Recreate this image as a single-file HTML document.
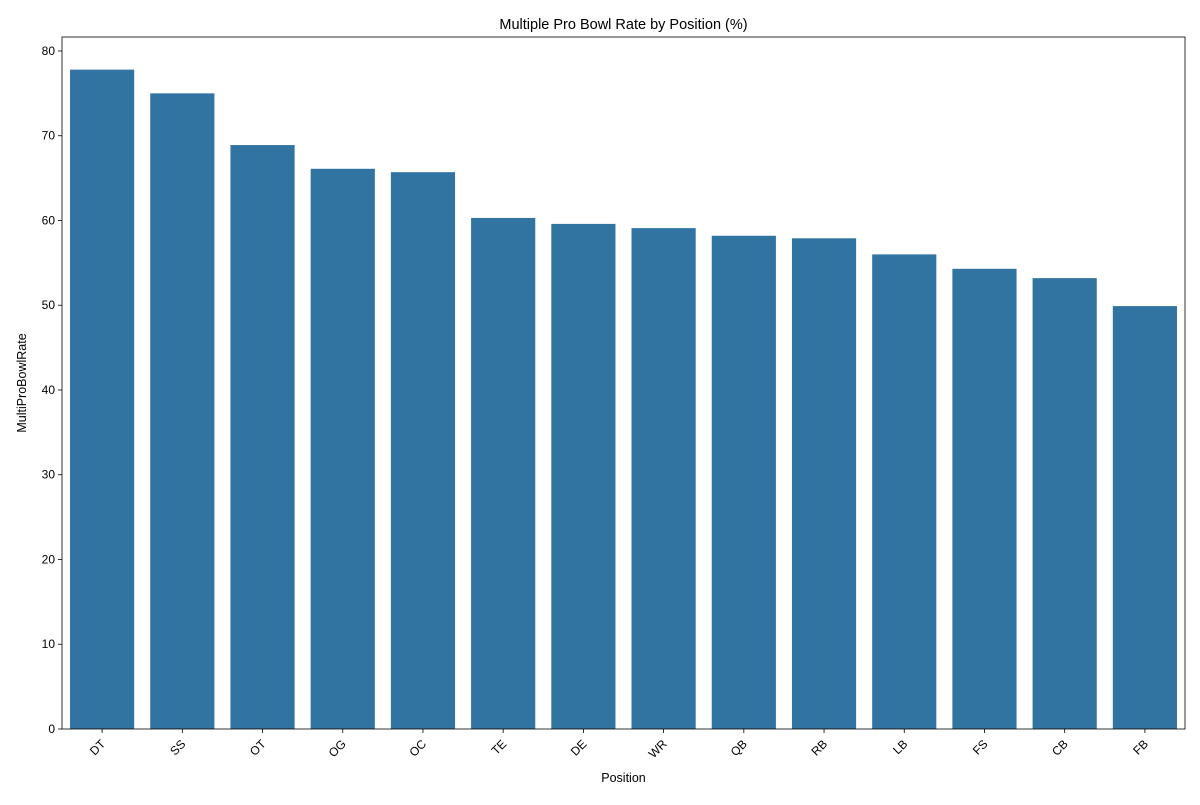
<!DOCTYPE html>
<html><head><meta charset="utf-8"><style>
body{margin:0;background:#fff;font-family:"Liberation Sans",sans-serif}
</style></head><body>
<svg id="chart" width="1200" height="800" xmlns="http://www.w3.org/2000/svg" font-family="Liberation Sans, sans-serif"></svg>
<script>
const categories=["DT","SS","OT","OG","OC","TE","DE","WR","QB","RB","LB","FS","CB","FB"];
const values=[77.8,75.0,68.9,66.1,65.7,60.3,59.6,59.1,58.2,57.9,56.0,54.3,53.2,49.9];
const yTicks=[0,10,20,30,40,50,60,70,80];
const NS="http://www.w3.org/2000/svg";
const svg=document.getElementById('chart');
const L=62,R=1185,T=37,B=729,yMax=81.65;
const y=v=>B-(v/yMax)*(B-T);
const band=(R-L)/categories.length;
const x=i=>L+band*i;
function mk(t,a,txt){const e=document.createElementNS(NS,t);for(const k in a)e.setAttribute(k,a[k]);if(txt!==undefined)e.textContent=txt;svg.appendChild(e);return e;}
categories.forEach((c,i)=>{
 const b=mk('rect',{x:x(i)+band*0.1,y:y(values[i]),width:band*0.8,height:B-y(values[i]),fill:'#3274a1'});
 
 
 const cx=x(i)+band/2;
 mk('line',{x1:cx,x2:cx,y1:B,y2:B+4,stroke:'#000','stroke-width':0.8});
 const t=mk('text',{x:cx,y:B+14,'font-size':12,'text-anchor':'end',transform:`rotate(-45 ${cx+4} ${B+10})`},c);
 
 
});
yTicks.forEach(v=>{
 const yy=y(v);
 mk('line',{x1:L-4,x2:L,y1:yy,y2:yy,stroke:'#000','stroke-width':0.8});
 const t=mk('text',{x:L-7,y:yy+4,'font-size':12,'text-anchor':'end'},v);
 
 
});
const f=mk('rect',{x:L,y:T,width:R-L,height:B-T,fill:'none',stroke:'#000','stroke-width':0.8});


const tt=mk('text',{x:(L+R)/2,y:29,'font-size':14.5,'text-anchor':'middle'},'Multiple Pro Bowl Rate by Position (%)');


const xt=mk('text',{x:(L+R)/2,y:782,'font-size':12.5,'text-anchor':'middle'},'Position');


const yt=mk('text',{x:26,y:(T+B)/2,'font-size':12.5,'text-anchor':'middle',transform:`rotate(-90 26 ${(T+B)/2})`},'MultiProBowlRate');


</script>
</body></html>
